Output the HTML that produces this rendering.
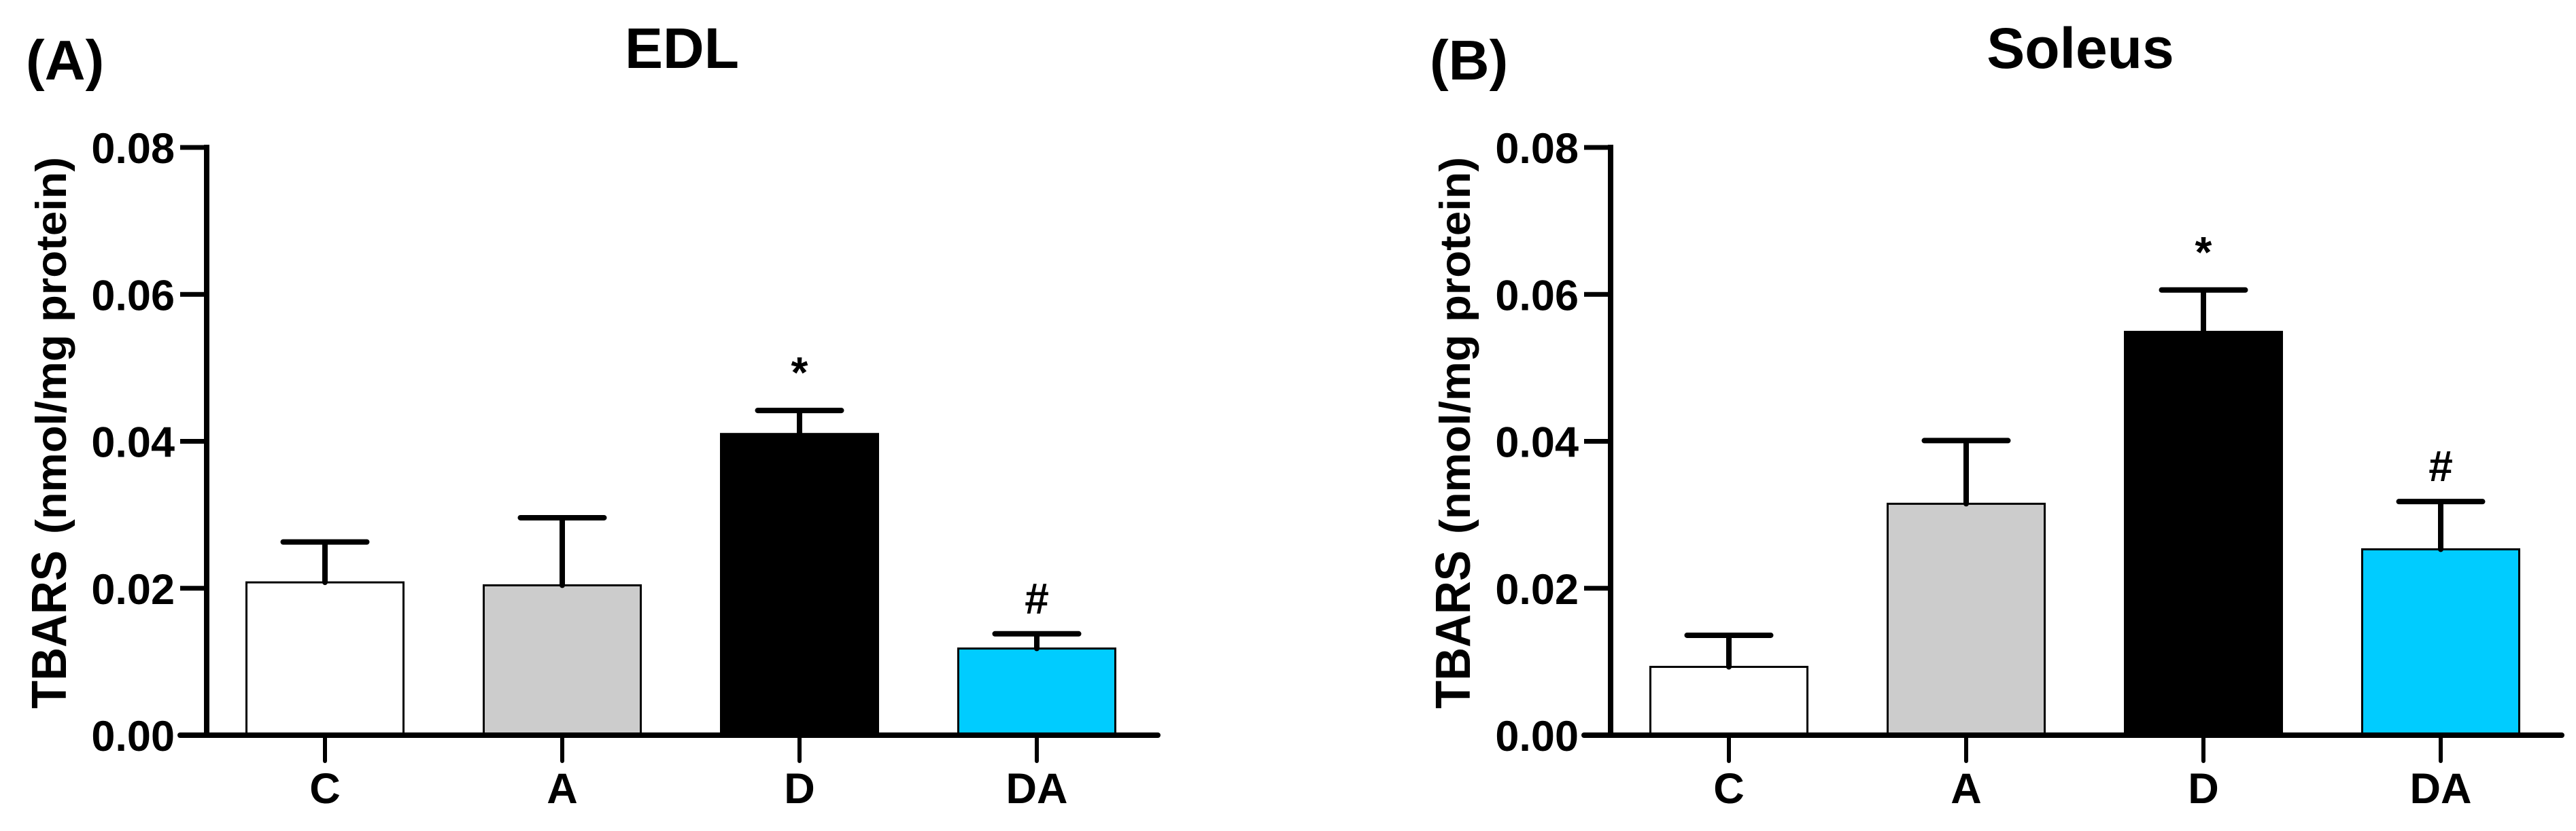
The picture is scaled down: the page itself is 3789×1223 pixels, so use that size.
<!DOCTYPE html>
<html><head><meta charset="utf-8"><style>
html,body{margin:0;padding:0;background:#fff;}
svg{display:block;font-family:"Liberation Sans",Arial,sans-serif;font-weight:bold;}
</style></head><body>
<svg id="chart" width="3789" height="1223" viewBox="0 0 3789 1223" xmlns="http://www.w3.org/2000/svg"></svg>
<script>
const categories = ["C", "A", "D", "DA"];
const barColors = ["#ffffff", "#cccccc", "#000000", "#00ccff"];
const edlMeans = [0.0208, 0.0204, 0.0410, 0.0118];
const edlErrors = [0.0055, 0.0092, 0.0032, 0.0020];
const edlMarks = ["", "", "*", "#"];
const soleusMeans = [0.0093, 0.0315, 0.0549, 0.0253];
const soleusErrors = [0.0043, 0.0086, 0.0057, 0.0065];
const soleusMarks = ["", "", "*", "#"];
const yTicks = [0, 0.02, 0.04, 0.06, 0.08];
const yTickLabels = ["0.00", "0.02", "0.04", "0.06", "0.08"];

const NS = "http://www.w3.org/2000/svg";
const svg = document.getElementById("chart");
function mk(tag, attrs, parent, text) {
  const e = document.createElementNS(NS, tag);
  for (const k in attrs) e.setAttribute(k, attrs[k]);
  if (text !== undefined) e.textContent = text;
  parent.appendChild(e);
  return e;
}

function drawPanel(off, letter, title, titleX, means, errs, marks, key) {
  const g = mk("g", {}, svg);
  
  
  const axisX = 304 + off, y0 = 1082, yMax = 0.08, yTop = 217;
  const yScale = v => y0 - (v / yMax) * (y0 - yTop);
  const xScale = i => 478 + off + i * 349;
  const barW = 231, capW = 123;

  const lt = mk("text", {x: 38 + off, y: 117, "font-size": 83, fill: "#000"}, g, letter);
  
  
  const tt = mk("text", {x: titleX, y: 100, "font-size": 84, "text-anchor": "middle", fill: "#000"}, g, title);
  
  

  // y-axis title
  const yt = mk("text", {transform: `translate(${97 + off},1043) rotate(-90)`, "font-size": 72, fill: "#000"}, g);
  
  
  mk("tspan", {textLength: 233, lengthAdjust: "spacingAndGlyphs"}, yt, "TBARS");
  mk("tspan", {dx: 24, "font-size": 63, textLength: 555, lengthAdjust: "spacingAndGlyphs"}, yt, "(nmol/mg protein)");

  // bars
  means.forEach((m, i) => {
    const cx = xScale(i);
    const top = yScale(m);
    const r = mk("rect", {x: cx - barW / 2, y: top, width: barW, height: y0 - top, fill: barColors[i], stroke: "#000", "stroke-width": 3}, g);
    
    
    const et = yScale(m + errs[i]);
    const eb = mk("path", {d: `M${cx},${top} V${et} M${cx - capW / 2},${et} H${cx + capW / 2}`, stroke: "#000", "stroke-width": 8, fill: "none", "stroke-linecap": "round"}, g);
    
    
    if (marks[i]) {
      const sm = mk("text", {x: cx, y: et - (marks[i] === "*" ? 34 : 30), "font-size": 64, "text-anchor": "middle", fill: "#000"}, g, marks[i]);
      
      
    }
    const tk = mk("line", {x1: cx, y1: y0, x2: cx, y2: 1120, stroke: "#000", "stroke-width": 6, "stroke-linecap": "round"}, g);
    
    
    const cl = mk("text", {x: cx, y: 1182, "font-size": 63, "text-anchor": "middle", fill: "#000"}, g, categories[i]);
    
    
  });

  // axes
  const ya = mk("line", {x1: axisX, y1: yTop - 4, x2: axisX, y2: y0 + 4, stroke: "#000", "stroke-width": 8}, g);
  
  
  const xa = mk("line", {x1: axisX - 39, y1: y0, x2: 1703 + off, y2: y0, stroke: "#000", "stroke-width": 8, "stroke-linecap": "round"}, g);
  
  
  yTicks.forEach((t, i) => {
    const y = yScale(t);
    const tl = mk("line", {x1: axisX - 39, y1: y, x2: axisX, y2: y, stroke: "#000", "stroke-width": 7}, g);
    
    
    const lb = mk("text", {x: 257 + off, y: y + 23, "font-size": 63, "text-anchor": "end", fill: "#000"}, g, yTickLabels[i]);
    
    
  });
}

drawPanel(0, "(A)", "EDL", 1003, edlMeans, edlErrors, edlMarks, "edl");
drawPanel(2065, "(B)", "Soleus", 3060, soleusMeans, soleusErrors, soleusMarks, "soleus");
</script>
</body></html>
